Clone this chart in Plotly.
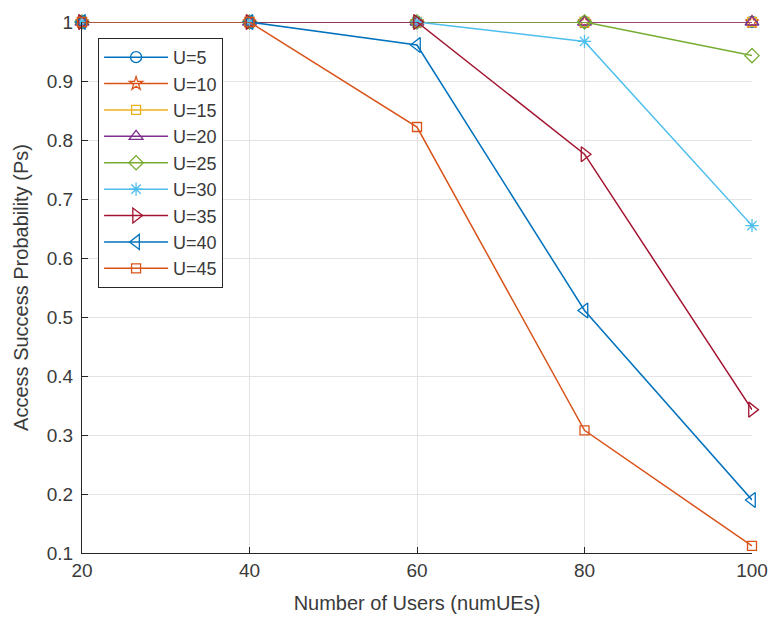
import plotly.graph_objects as go

num_ues = [20, 40, 60, 80, 100]
labels = ["U=5", "U=10", "U=15", "U=20", "U=25", "U=30", "U=35", "U=40", "U=45"]
ps_u5 = [1, 1, 1, 1, 1]
ps_u10 = [1, 1, 1, 1, 1]
ps_u15 = [1, 1, 1, 1, 1]
ps_u20 = [1, 1, 1, 1, 1]
ps_u25 = [1, 1, 1, 1, 0.943]
ps_u30 = [1, 1, 1, 0.967, 0.655]
ps_u35 = [1, 1, 1, 0.776, 0.343]
ps_u40 = [1, 1, 0.961, 0.511, 0.19]
ps_u45 = [1, 1, 0.822, 0.308, 0.112]
series = [ps_u5, ps_u10, ps_u15, ps_u20, ps_u25, ps_u30, ps_u35, ps_u40, ps_u45]
y_ticks = [0.1, 0.2, 0.3, 0.4, 0.5, 0.6, 0.7, 0.8, 0.9, 1]
y_tick_text = ["0.1", "0.2", "0.3", "0.4", "0.5", "0.6", "0.7", "0.8", "0.9", "1"]

colors = ["#0072BD", "#D95319", "#EDB120", "#7E2F8E", "#77AC30",
          "#4DBEEE", "#A2142F", "#0072BD", "#D95319"]
symbols = ["circle-open", "star-open", "square-open", "triangle-up-open",
           "diamond-open", "asterisk-open", "triangle-right-open",
           "triangle-left-open", "square-open"]
sizes = [11, 10, 9, 12, 11, 11, 13, 13, 9]

FONT = "Liberation Sans, Arial"
TXT = "#3a3a3a"

fig = go.Figure()
for lab, ys, c, s, sz in zip(labels, series, colors, symbols, sizes):
    fig.add_trace(go.Scatter(
        x=num_ues, y=ys, name=lab, mode="lines+markers",
        line=dict(color=c, width=1.5),
        marker=dict(symbol=s, size=sz, color=c, line=dict(color=c, width=1.3)),
        cliponaxis=False,
    ))

axis_common = dict(
    showline=True, linecolor="#262626", linewidth=1.2, mirror=False,
    ticks="inside", ticklen=6, tickcolor="#262626",
    showgrid=True, gridcolor="#e3e3e3", gridwidth=1,
    zeroline=False,
    tickfont=dict(family=FONT, size=19, color=TXT),
    title_font=dict(family=FONT, size=20, color=TXT),
)

fig.update_layout(
    width=780, height=625,
    margin=dict(l=82, r=20, t=17, b=72),
    plot_bgcolor="white", paper_bgcolor="white",
    xaxis=dict(range=[20, 100], tickvals=num_ues,
               title=dict(text="Number of Users (numUEs)", standoff=16), **axis_common),
    yaxis=dict(range=[0.1, 1], tickvals=y_ticks, ticktext=y_tick_text,
               ticklabelstandoff=4,
               title=dict(text="Access Success Probability (Ps)", standoff=12), **axis_common),
    legend=dict(x=0.024, y=0.97, xanchor="left", yanchor="top",
                bordercolor="#262626", borderwidth=1, bgcolor="white",
                font=dict(family=FONT, size=18, color=TXT),
                itemwidth=64, tracegroupgap=0),
    showlegend=True,
)

fig.write_html("out.html")
